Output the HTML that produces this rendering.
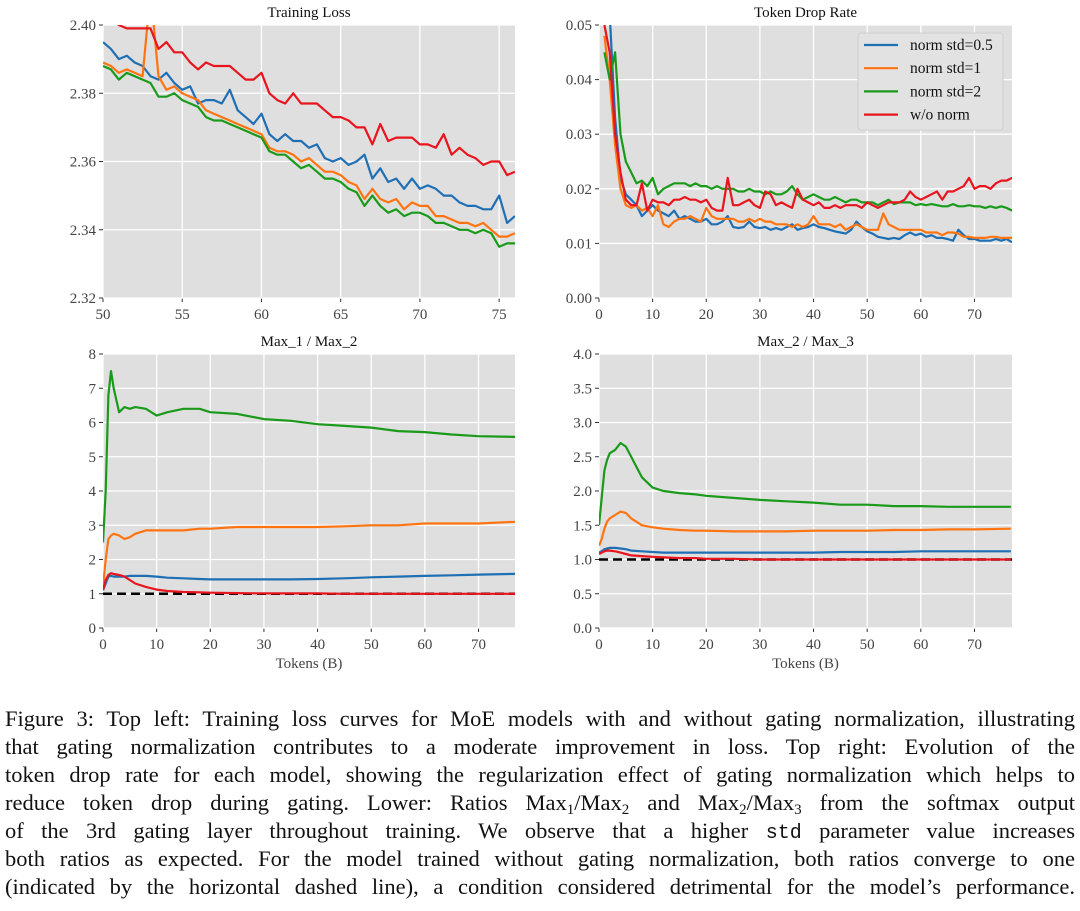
<!DOCTYPE html>
<html><head><meta charset="utf-8">
<style>
body{margin:0;background:#fff;width:1080px;height:911px;overflow:hidden;font-family:"Liberation Serif",serif;}
svg{position:absolute;left:0;top:0;}
#cap{position:absolute;left:5px;top:705px;width:1070px;font-size:22.5px;line-height:28px;color:#111;}
#cap div{text-align:justify;text-align-last:justify;white-space:nowrap;height:28px;}
sub{font-size:15px;line-height:0;vertical-align:-4px;}
code{font-family:"Liberation Mono",monospace;font-size:20px;}
</style></head><body>
<svg id="fig" width="1080" height="700"></svg>
<div id="cap">
<div>Figure 3: Top left: Training loss curves for MoE models with and without gating normalization, illustrating</div>
<div>that gating normalization contributes to a moderate improvement in loss. Top right: Evolution of the</div>
<div>token drop rate for each model, showing the regularization effect of gating normalization which helps to</div>
<div>reduce token drop during gating. Lower: Ratios Max<sub>1</sub>/Max<sub>2</sub> and Max<sub>2</sub>/Max<sub>3</sub> from the softmax output</div>
<div>of the 3rd gating layer throughout training. We observe that a higher <code>std</code> parameter value increases</div>
<div>both ratios as expected. For the model trained without gating normalization, both ratios converge to one</div>
<div>(indicated by the horizontal dashed line), a condition considered detrimental for the model’s performance.</div>
</div>
<script>
// ---------- data ----------
const seriesNames = ["norm std=0.5","norm std=1","norm std=2","w/o norm"];
const colors = ["#1f6fb4","#ff7410","#1a9a1a","#e8141e"];

const lossTokens = [50,50.5,51,51.5,52,52.5,53,53.5,54,54.5,55,55.5,56,56.5,57,57.5,58,58.5,59,59.5,60,60.5,61,61.5,62,62.5,63,63.5,64,64.5,65,65.5,66,66.5,67,67.5,68,68.5,69,69.5,70,70.5,71,71.5,72,72.5,73,73.5,74,74.5,75,75.5,76];
const lossBlue = [2.395,2.393,2.390,2.391,2.389,2.388,2.385,2.384,2.386,2.383,2.381,2.382,2.377,2.378,2.378,2.377,2.381,2.375,2.373,2.371,2.374,2.368,2.366,2.368,2.366,2.366,2.364,2.365,2.361,2.360,2.361,2.359,2.360,2.362,2.355,2.358,2.354,2.355,2.352,2.355,2.352,2.353,2.352,2.350,2.350,2.348,2.347,2.347,2.346,2.346,2.350,2.342,2.344];
const lossOrange = [2.389,2.388,2.386,2.387,2.386,2.385,2.410,2.385,2.381,2.382,2.380,2.379,2.378,2.375,2.374,2.373,2.372,2.371,2.370,2.369,2.368,2.364,2.363,2.363,2.362,2.360,2.361,2.359,2.357,2.357,2.356,2.354,2.353,2.349,2.352,2.349,2.348,2.349,2.346,2.348,2.347,2.347,2.344,2.344,2.343,2.342,2.342,2.341,2.342,2.340,2.338,2.338,2.339];
const lossGreen = [2.388,2.387,2.384,2.386,2.385,2.384,2.383,2.379,2.379,2.380,2.378,2.377,2.376,2.373,2.372,2.372,2.371,2.370,2.369,2.368,2.367,2.363,2.362,2.362,2.360,2.358,2.359,2.357,2.355,2.355,2.354,2.352,2.351,2.347,2.350,2.347,2.345,2.346,2.344,2.345,2.345,2.344,2.342,2.342,2.341,2.340,2.340,2.339,2.340,2.339,2.335,2.336,2.336];
const lossRed = [2.403,2.402,2.400,2.399,2.399,2.399,2.399,2.393,2.395,2.392,2.392,2.389,2.387,2.389,2.388,2.388,2.388,2.386,2.384,2.384,2.386,2.380,2.378,2.377,2.380,2.377,2.377,2.377,2.375,2.373,2.373,2.372,2.370,2.370,2.365,2.371,2.366,2.367,2.367,2.367,2.365,2.365,2.364,2.368,2.362,2.364,2.362,2.361,2.359,2.360,2.360,2.356,2.357];

const dropTokens = [1,2,3,4,5,6,7,8,9,10,11,12,13,14,15,16,17,18,19,20,21,22,23,24,25,26,27,28,29,30,31,32,33,34,35,36,37,38,39,40,41,42,43,44,45,46,47,48,49,50,51,52,53,54,55,56,57,58,59,60,61,62,63,64,65,66,67,68,69,70,71,72,73,74,75,76,77];
const dropBlue = [0.050,0.052,0.033,0.022,0.019,0.018,0.017,0.015,0.016,0.017,0.016,0.0155,0.015,0.016,0.0145,0.015,0.0145,0.014,0.014,0.0145,0.0135,0.0135,0.014,0.015,0.013,0.0128,0.013,0.014,0.013,0.0128,0.013,0.0125,0.0128,0.0125,0.013,0.0135,0.0125,0.0128,0.013,0.0135,0.013,0.0128,0.0125,0.0122,0.012,0.0118,0.0125,0.014,0.013,0.0122,0.0118,0.0112,0.011,0.0108,0.011,0.0108,0.0115,0.012,0.0115,0.0118,0.0112,0.0115,0.011,0.011,0.0108,0.0105,0.0125,0.0115,0.0108,0.0108,0.0105,0.0105,0.0105,0.0108,0.0105,0.0108,0.0102];
const dropOrange = [0.048,0.040,0.028,0.020,0.017,0.0165,0.017,0.016,0.0165,0.015,0.017,0.0135,0.013,0.014,0.0145,0.0145,0.015,0.0145,0.014,0.0165,0.015,0.0145,0.0145,0.0145,0.0145,0.014,0.014,0.0145,0.014,0.0145,0.014,0.014,0.0135,0.0135,0.0135,0.013,0.0135,0.013,0.0135,0.015,0.0135,0.0135,0.0135,0.013,0.0135,0.0125,0.013,0.0135,0.013,0.0125,0.0125,0.0125,0.0155,0.0135,0.013,0.0125,0.0125,0.0125,0.0125,0.0125,0.012,0.012,0.012,0.0115,0.012,0.012,0.0118,0.0112,0.0112,0.011,0.011,0.011,0.0112,0.0112,0.011,0.011,0.011];
const dropGreen = [0.045,0.040,0.045,0.030,0.025,0.023,0.021,0.0215,0.0205,0.022,0.019,0.020,0.0205,0.021,0.021,0.021,0.0205,0.021,0.0205,0.0205,0.020,0.0205,0.020,0.020,0.020,0.0195,0.0195,0.020,0.0195,0.0195,0.019,0.0195,0.019,0.019,0.0195,0.0205,0.019,0.018,0.0185,0.019,0.0185,0.018,0.018,0.0185,0.018,0.0175,0.018,0.018,0.0175,0.0175,0.0175,0.017,0.0175,0.018,0.0172,0.0175,0.0175,0.0175,0.017,0.0172,0.017,0.0172,0.017,0.0168,0.0168,0.0172,0.0168,0.0168,0.017,0.0168,0.0168,0.0165,0.0168,0.0165,0.0168,0.0165,0.016];
const dropRed = [0.050,0.045,0.030,0.023,0.018,0.017,0.017,0.021,0.016,0.018,0.0175,0.0175,0.017,0.018,0.018,0.0185,0.018,0.018,0.0175,0.018,0.0165,0.016,0.016,0.022,0.017,0.017,0.0175,0.018,0.017,0.0165,0.0195,0.019,0.017,0.0175,0.017,0.0165,0.020,0.018,0.0175,0.017,0.0175,0.0165,0.0165,0.017,0.0165,0.017,0.017,0.017,0.0165,0.0175,0.017,0.0165,0.017,0.0175,0.0175,0.0175,0.018,0.0195,0.0185,0.018,0.0185,0.019,0.0195,0.018,0.0195,0.0195,0.020,0.0205,0.022,0.020,0.0205,0.0205,0.020,0.021,0.0215,0.0215,0.022];

const ratioTokens = [0,0.5,1,1.5,2,3,4,5,6,8,10,12,15,18,20,25,30,35,40,45,50,55,60,65,70,76.8];
const r12Blue = [1.1,1.3,1.5,1.52,1.5,1.5,1.5,1.52,1.52,1.52,1.5,1.47,1.45,1.43,1.42,1.42,1.42,1.42,1.43,1.45,1.48,1.5,1.52,1.54,1.56,1.58];
const r12Orange = [1.2,2.0,2.6,2.7,2.75,2.7,2.6,2.65,2.75,2.85,2.85,2.85,2.85,2.9,2.9,2.95,2.95,2.95,2.95,2.97,3.0,3.0,3.05,3.05,3.05,3.1];
const r12Green = [2.5,4.0,6.8,7.5,7.0,6.3,6.45,6.4,6.45,6.4,6.2,6.3,6.4,6.4,6.3,6.25,6.1,6.05,5.95,5.9,5.85,5.75,5.72,5.65,5.6,5.58];
const r12Red = [1.1,1.4,1.55,1.6,1.58,1.55,1.5,1.4,1.3,1.2,1.12,1.08,1.05,1.04,1.03,1.02,1.01,1.01,1.01,1.0,1.0,1.0,1.0,1.0,1.0,1.0];
const r23Blue = [1.1,1.12,1.15,1.16,1.17,1.17,1.16,1.15,1.13,1.12,1.11,1.1,1.1,1.1,1.1,1.1,1.1,1.1,1.1,1.11,1.11,1.11,1.12,1.12,1.12,1.12];
const r23Orange = [1.2,1.3,1.45,1.55,1.6,1.65,1.7,1.68,1.6,1.5,1.47,1.45,1.43,1.42,1.42,1.41,1.41,1.41,1.42,1.42,1.42,1.43,1.43,1.44,1.44,1.45];
const r23Green = [1.5,1.9,2.3,2.45,2.55,2.6,2.7,2.65,2.5,2.2,2.05,2.0,1.97,1.95,1.93,1.9,1.87,1.85,1.83,1.8,1.8,1.78,1.78,1.77,1.77,1.77];
const r23Red = [1.08,1.1,1.12,1.13,1.13,1.12,1.1,1.08,1.06,1.05,1.04,1.03,1.02,1.02,1.01,1.01,1.0,1.0,1.0,1.0,1.0,1.0,1.0,1.0,1.0,1.0];

const lossXTicks = [50,55,60,65,70,75];
const lossYTicks = ["2.32","2.34","2.36","2.38","2.40"];
const dropXTicks = [0,10,20,30,40,50,60,70];
const dropYTicks = ["0.00","0.01","0.02","0.03","0.04","0.05"];
const ratioXTicks = [0,10,20,30,40,50,60,70];
const r12YTicks = ["0","1","2","3","4","5","6","7","8"];
const r23YTicks = ["0.0","0.5","1.0","1.5","2.0","2.5","3.0","3.5","4.0"];

// ---------- drawing ----------
const NS="http://www.w3.org/2000/svg";
const fig=document.getElementById('fig');
function mk(tag,attrs,parent){const e=document.createElementNS(NS,tag);for(const k in attrs)e.setAttribute(k,attrs[k]);(parent||fig).appendChild(e);return e;}

function panel(cfg){
  const g=mk('g',{});
  
  
  const {x0,x1,y0,y1,xmin,xmax,ymin,ymax}=cfg;
  const sx=v=>x0+(v-xmin)/(xmax-xmin)*(x1-x0);
  const sy=v=>y1-(v-ymin)/(ymax-ymin)*(y1-y0);
  const clipId='clip-'+cfg.name;
  const cp=mk('clipPath',{id:clipId},g); mk('rect',{x:x0,y:y0,width:x1-x0,height:y1-y0},cp);
  const bg=mk('rect',{x:x0,y:y0,width:x1-x0,height:y1-y0,fill:'#dfdfdf'},g);
  
  
  cfg.xt.forEach(t=>{
    const X=sx(t);
    mk('line',{x1:X,x2:X,y1:y0,y2:y1,stroke:'#fff','stroke-width':1.3},g);
    mk('line',{x1:X,x2:X,y1:y1,y2:y1+4,stroke:'#333','stroke-width':1},g);
    const tx=mk('text',{x:X,y:y1+21,'text-anchor':'middle','font-size':15,fill:'#444','font-family':'Liberation Serif, serif'},g);
    tx.textContent=t;
    
    
  });
  cfg.yt.forEach(t=>{
    const Y=sy(parseFloat(t));
    mk('line',{x1:x0,x2:x1,y1:Y,y2:Y,stroke:'#fff','stroke-width':1.3},g);
    mk('line',{x1:x0-4,x2:x0,y1:Y,y2:Y,stroke:'#333','stroke-width':1},g);
    const ty=mk('text',{x:x0-7,y:Y+5,'text-anchor':'end','font-size':15,fill:'#444','font-family':'Liberation Serif, serif'},g);
    ty.textContent=t;
    
    
  });
  const title=mk('text',{x:(x0+x1)/2,y:y0-8,'text-anchor':'middle','font-size':15,fill:'#111','font-family':'Liberation Serif, serif'},g);
  title.textContent=cfg.title;
  
  
  if(cfg.xlabel){
    const xl=mk('text',{x:(x0+x1)/2,y:y1+40,'text-anchor':'middle','font-size':15,fill:'#444','font-family':'Liberation Serif, serif'},g);
    xl.textContent=cfg.xlabel;
    
    
  }
  const pg=mk('g',{'clip-path':'url(#'+clipId+')'},g);
  if(cfg.dashed!==undefined){
    const d=mk('line',{x1:x0,x2:x1,y1:sy(cfg.dashed),y2:sy(cfg.dashed),stroke:'#000','stroke-width':2.5,'stroke-dasharray':'9,5'},pg);
    
    
  }
  cfg.series.forEach((s,i)=>{
    const n=Math.min(s.length,cfg.xs.length);
    let dstr='';
    for(let k=0;k<n;k++){dstr+=(k?'L':'M')+sx(cfg.xs[k]).toFixed(1)+','+sy(s[k]).toFixed(1);}
    const p=mk('path',{d:dstr,fill:'none',stroke:colors[i],'stroke-width':2.2,'stroke-linejoin':'round'},pg);
    
    
  });
  return {g,sx,sy};
}

panel({name:'training-loss-chart',title:'Training Loss',x0:103,x1:515,y0:25,y1:298,xmin:50,xmax:76,ymin:2.32,ymax:2.40,xt:lossXTicks,yt:lossYTicks,xs:lossTokens,series:[lossBlue,lossOrange,lossGreen,lossRed]});
panel({name:'token-drop-rate-chart',title:'Token Drop Rate',x0:599,x1:1012,y0:25,y1:298,xmin:0,xmax:77,ymin:0,ymax:0.05,xt:dropXTicks,yt:dropYTicks,xs:dropTokens,series:[dropBlue,dropOrange,dropGreen,dropRed]});
panel({name:'max1-max2-chart',title:'Max_1 / Max_2',x0:103,x1:515,y0:354,y1:628,xmin:0,xmax:76.8,ymin:0,ymax:8,xt:ratioXTicks,yt:r12YTicks,xs:ratioTokens,series:[r12Blue,r12Orange,r12Green,r12Red],xlabel:'Tokens (B)',dashed:1});
panel({name:'max2-max3-chart',title:'Max_2 / Max_3',x0:599,x1:1012,y0:354,y1:628,xmin:0,xmax:77,ymin:0,ymax:4,xt:ratioXTicks,yt:r23YTicks,xs:ratioTokens,series:[r23Blue,r23Orange,r23Green,r23Red],xlabel:'Tokens (B)',dashed:1});

// legend
const lg=mk('g',{});


mk('rect',{x:858,y:33,width:145,height:97,rx:3,fill:'#e2e2e2',stroke:'#cfcfcf','stroke-width':1},lg);
seriesNames.forEach((nm,i)=>{
  const Y=45+i*23.2;
  const e=mk('g',{},lg);
  
  
  mk('line',{x1:864,x2:898,y1:Y,y2:Y,stroke:colors[i],'stroke-width':2.2},e);
  const t=mk('text',{x:910,y:Y+5,'font-size':15.5,fill:'#111','font-family':'Liberation Serif, serif'},e);
  t.textContent=nm;
});
</script>
</body></html>
